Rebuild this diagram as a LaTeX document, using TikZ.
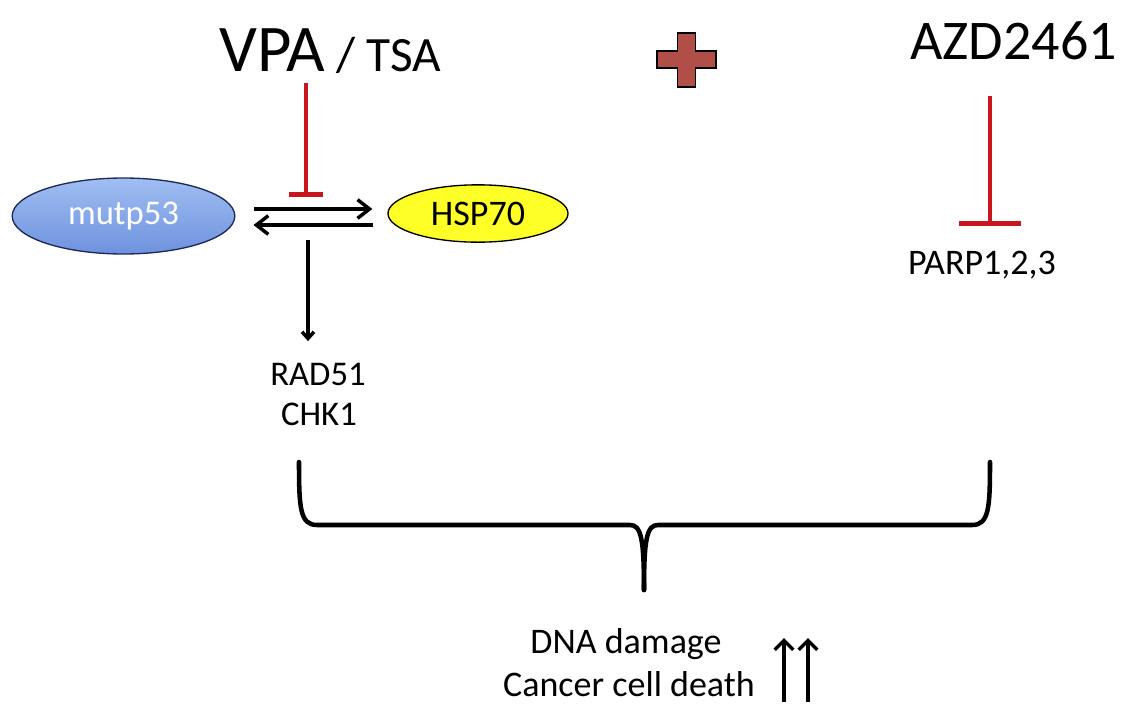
\documentclass[tikz,border=0pt]{standalone}
\usepackage{fontspec}
\setmainfont{Carlito}
\usetikzlibrary{shapes.geometric,arrows.meta}

\definecolor{inhibred}{RGB}{200,22,30}
\definecolor{plusred}{RGB}{178,78,72}
\definecolor{mutblueT}{RGB}{160,190,242}
\definecolor{mutblueB}{RGB}{110,146,222}
\definecolor{mutedge}{RGB}{30,40,90}
\definecolor{hspyellow}{RGB}{255,255,40}

\newcommand{\fs}[1]{\fontsize{#1}{1.2\dimexpr#1\relax}\selectfont}

\tikzstyle{every node}=[inner sep=0pt, font=\fs{26pt}]
\tikzstyle{protein}=[ellipse, draw, line width=1pt]
\tikzstyle{txt}=[anchor=base]
\tikzstyle{rxn}=[line width=2.6pt, -{Straight Barb[length=9pt,width=14pt]}]
\tikzstyle{uparr}=[line width=2.6pt, -{Straight Barb[length=7pt,width=14pt]}]
\tikzstyle{brace}=[line width=3.4pt, line join=round, line cap=round]
\tikzset{inhib/.style={draw=inhibred, line width=3.6pt, -{Bar[width=#1]}}}

\begin{document}
\begin{tikzpicture}[x=0.75pt,y=-0.75pt]
    \useasboundingbox (0,0) rectangle (1132,718);

    % drugs
    \node [txt, anchor=base west] (vpa) at (219,71) {\fs{50pt}VPA\fs{37pt} / TSA};
    \node [txt, anchor=base west] (azd) at (910,59) {\fs{42pt}AZD2461};

    % plus sign
    \draw [fill=plusred, line width=0.8pt] (677.5,33) -- (695.5,33) -- (695.5,51) -- (716,51)
        -- (716,68) -- (695.5,68) -- (695.5,87) -- (677.5,87) -- (677.5,68) -- (657,68)
        -- (657,51) -- (677.5,51) -- cycle;

    % proteins
    \node [protein, draw=mutedge, top color=mutblueT, bottom color=mutblueB,
        minimum width=167pt, minimum height=57pt, text=white, font=\fs{26pt}] (mutp) at (123.5,216) {mutp53};
    \node [protein, fill=hspyellow, minimum width=135pt, minimum height=43pt,
        font=\fs{27pt}] (hsp) at (478,213.5) {HSP70};

    % targets
    \node [txt] (rad) at (318,385) {RAD51};
    \node [txt] (chk) at (319,425) {CHK1};
    \node [txt, font=\fs{27pt}] (parp) at (982,274) {PARP1,2,3};
    \node [txt, font=\fs{27pt}] (dna) at (626,653) {DNA damage};
    \node [txt, font=\fs{27pt}] (death) at (629,696) {Cancer cell death};

    % binding
    \draw [rxn] ([shift={(18,-7)}]mutp.east) -- ([shift={(-15,-4.5)}]hsp.west);
    \draw [rxn] ([shift={(-14,11.5)}]hsp.west) -- ([shift={(18,9)}]mutp.east);

    \coordinate (vpatop) at (306,83);
    \coordinate (vpabar) at (306,197);
    \draw [inhib=26pt] (vpatop) -- (vpabar);

    \coordinate (azdtop) at (990,96);
    \coordinate (azdbar) at (990,226);
    \draw [inhib=46pt] (azdtop) -- (azdbar);

    \coordinate (cplx) at (308,240);
    \draw [line width=2.6pt, -{Straight Barb[length=5pt,width=9pt]}, shorten >=16pt] (cplx) -- (cplx |- rad.north);

    % brace
    \coordinate (bl) at (299,462);
    \coordinate (br) at (990,462);
    \coordinate (tip) at (644,590);
    \draw [brace] (bl) .. controls (299,508) and (300,525) .. (317,525) -- (630,525)
        .. controls (641,525) and (644,538) .. (tip);
    \draw [brace] (br) .. controls (990,508) and (989,525) .. (972,525) -- (658,525)
        .. controls (647,525) and (644,538) .. (tip);

    % increase
    \coordinate (upa) at (784,702);
    \coordinate (upb) at (808,702);
    \draw [uparr] (upa) -- ++(0,-64);
    \draw [uparr] (upb) -- ++(0,-64);
\end{tikzpicture}
\end{document}
